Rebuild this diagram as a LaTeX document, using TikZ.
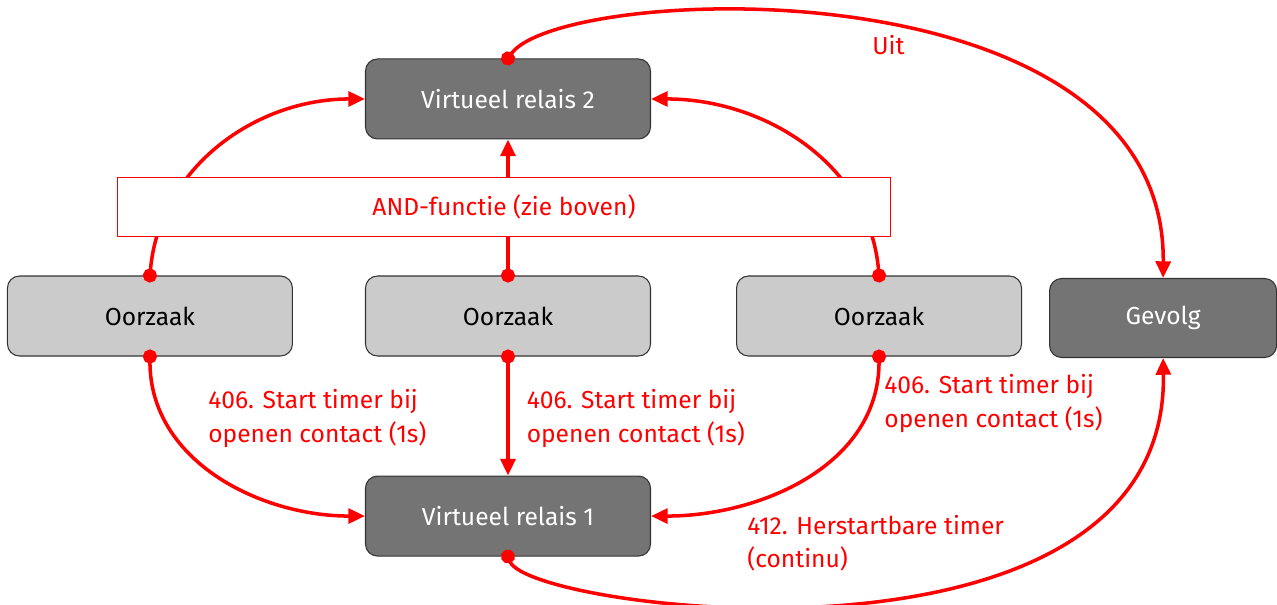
\documentclass[tikz,border=0pt]{standalone}
\usepackage{fontspec}
\setmainfont{Fira Sans}
\usetikzlibrary{arrows.meta,positioning}
\definecolor{donker}{HTML}{737473}
\definecolor{licht}{HTML}{CBCBCB}
\definecolor{rood}{HTML}{FF0000}

\begin{document}
\begin{tikzpicture}[
    font=\fontsize{14}{18.8}\selectfont,
    relais/.style={rectangle, rounded corners=0.24cm, draw=black!80, line width=0.6pt, fill=donker, text=white, minimum width=5.7cm, minimum height=1.6cm},
    oorzaak/.style={relais, fill=licht, text=black},
    andbox/.style={rectangle, draw=rood, line width=1.1pt, fill=white, text=rood, minimum width=15.46cm, minimum height=1.18cm},
    pijl/.style={{Circle[length=8pt]}-{Triangle[length=9.5pt,width=8.5pt]}, line width=2pt, draw=rood, shorten <=-4pt},
    lbl/.style={text=rood, align=left, inner sep=0pt}
]
    \useasboundingbox (-10.16,6.32) rectangle (15.38,-5.76);

    \node[oorzaak] (o2) {Oorzaak};
    \node[oorzaak, left=1.44cm of o2] (o1) {Oorzaak};
    \node[oorzaak, right=1.7cm of o2] (o3) {Oorzaak};
    \node[relais, right=0.54cm of o3, minimum width=4.54cm, minimum height=1.58cm, yshift=-0.04cm] (gevolg) {Gevolg};
    \node[relais, above=2.72cm of o2] (vr2) {Virtueel relais 2};
    \node[relais, below=2.38cm of o2] (vr1) {Virtueel relais 1};

    % naar relais 2, onder de AND-box door
    \draw[pijl] (o1.north) to[out=85, in=180] (vr2.west);
    \draw[pijl] (o2.north) -- (vr2.south);
    \draw[pijl] (o3.north) to[out=95, in=0] (vr2.east);
    \node[andbox, above=0.76cm of o2, xshift=-0.08cm] (and) {AND-functie (zie boven)};

    % naar relais 1
    \draw[pijl] (o1.south) to[out=-90, in=180] (vr1.west);
    \draw[pijl] (o2.south) -- (vr1.north) node[lbl, midway, right=0.34cm, yshift=-0.05cm] (t2) {406. Start timer bij\\openen contact (1s)};
    \draw[pijl] (o3.south) to[out=-90, in=0] (vr1.east);
    \node[lbl, right=1.16cm of o1.south, yshift=-1.24cm] (t1) {406. Start timer bij\\openen contact (1s)};
    \node[lbl, right=0.1cm of o3.south, yshift=-0.94cm] (t3) {406. Start timer bij\\openen contact (1s)};

    % naar gevolg
    \draw[pijl] (vr2.north) .. controls +(1.04,1.5) and +(0.06,6.38) .. (gevolg.north);
    \draw[pijl] (vr1.south) .. controls +(0.44,-1.1) and +(0.12,-6.64) .. (gevolg.south);
    \node[lbl, right=7.28cm of vr2.north, yshift=0.26cm] (uit) {Uit};
    \node[lbl, right=1.92cm of vr1.east, yshift=-0.54cm] (t4) {412. Herstartbare timer\\(continu)};
\end{tikzpicture}
\end{document}
